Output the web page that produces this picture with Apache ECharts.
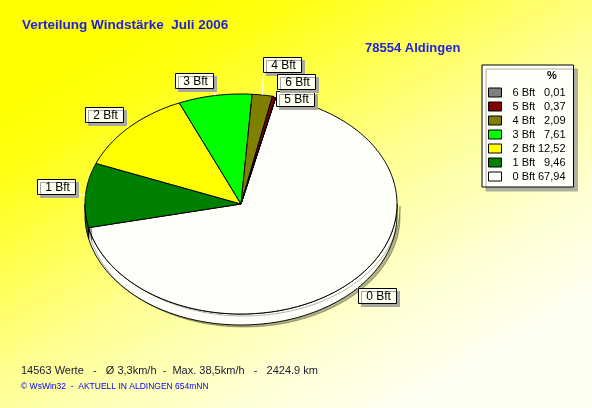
<!DOCTYPE html>
<html>
<head>
<meta charset="utf-8">
<title>Verteilung Windstärke Juli 2006</title>
<script src="https://cdn.jsdelivr.net/npm/echarts@6/dist/echarts.min.js"></script>
<style>
    html, body { margin: 0; padding: 0; }
    #chart { width: 592px; height: 408px; }
</style>
</head>
<body>
<div id="chart"></div>
<script>
// Daten: Windstärke-Klassen und Anteile in %
var classes = ['0 Bft', '1 Bft', '2 Bft', '3 Bft', '4 Bft', '5 Bft', '6 Bft'];
var shares = [67.94, 9.46, 12.52, 7.61, 2.09, 0.37, 0.01];
var colors = ['#fffffa', '#008000', '#ffff00', '#00ff00', '#808000', '#800000', '#808080'];
var legendOrder = ['6 Bft', '5 Bft', '4 Bft', '3 Bft', '2 Bft', '1 Bft', '0 Bft'];

var titleText = 'Verteilung Windstärke  Juli 2006';
var stationText = '78554 Aldingen';
var statsText = '14563 Werte   -   Ø 3,3km/h  -  Max. 38,5km/h   -   2424.9 km';
var footerText = '© WsWin32  -  AKTUELL IN ALDINGEN 654mNN';

// Geometrie der (schräg gesehenen) Torte
var pie = { cx: 241, cy: 204, rx: 156, ry: 110, depth: 11, start: -77 };
// Position der Beschriftungsboxen relativ zum Randpunkt (Mitte der Box)
var labelOffset = [[26, 13], [-30, -9], [-25, -13], [-21, -15], [20, -31], [21, 2], [20, -15]];
var boxW = 38, boxH = 15;

var total = shares.reduce(function (a, b) { return a + b; }, 0);
var startAngles = [];
var acc = pie.start;
shares.forEach(function (v) {
    startAngles.push(acc);
    acc += v / total * 360;
});

function pt(deg, dy) {
    var r = deg * Math.PI / 180;
    return [pie.cx + pie.rx * Math.cos(r), pie.cy + pie.ry * Math.sin(r) + (dy || 0)];
}
function arc(a1, a2, dy) {
    var pts = [];
    var n = Math.max(1, Math.ceil(Math.abs(a2 - a1)));
    for (var k = 0; k <= n; k++) {
        pts.push(pt(a1 + (a2 - a1) * k / n, dy));
    }
    return pts;
}
function shade(c, f) {
    var n = parseInt(c.slice(1), 16);
    var r = Math.round(((n >> 16) & 255) * f), g = Math.round(((n >> 8) & 255) * f), b = Math.round((n & 255) * f);
    return 'rgb(' + r + ',' + g + ',' + b + ')';
}

function renderSlice(params, api) {
    var i = params.seriesIndex;
    var a1 = startAngles[i];
    var a2 = a1 + api.value(0) / total * 360;
    var children = [];

    // sichtbare Seitenwand (vorne, 0..180 Grad)
    var s = Math.max(a1, 0), e = Math.min(a2, 180);
    if (s < e) {
        var side = arc(s, e, 0).concat(arc(e, s, pie.depth));
        children.push({
            type: 'polygon',
            shape: { points: side },
            style: {
                fill: i === 0 ? colors[i] : shade(colors[i], 0.85),
                stroke: '#000', lineWidth: 1,
                shadowColor: 'rgba(0,0,0,0.3)', shadowOffsetX: 3, shadowOffsetY: 2, shadowBlur: 0
            }
        });
    }
    // Oberseite
    children.push({
        type: 'polygon',
        shape: { points: [[pie.cx, pie.cy]].concat(arc(a1, a2, 0)) },
        style: { fill: colors[i], stroke: '#000', lineWidth: 1 }
    });

    // Beschriftung
    var p = pt((a1 + a2) / 2, 0);
    var off = labelOffset[i];
    var bx = Math.round(p[0] + off[0] - boxW / 2) + 0.5;
    var by = Math.round(p[1] + off[1] - boxH / 2) + 0.5;
    var qx = Math.min(Math.max(p[0], bx), bx + boxW);
    var qy = Math.min(Math.max(p[1], by), by + boxH);
    if (Math.abs(qx - p[0]) + Math.abs(qy - p[1]) > 1) {
        children.push({
            type: 'line', z2: 50,
            shape: { x1: p[0], y1: p[1], x2: qx, y2: qy },
            style: { stroke: '#ffffff', lineWidth: 1 }
        });
    }
    children.push({
        type: 'rect', z2: 100,
        shape: { x: bx, y: by, width: boxW, height: boxH },
        style: {
            fill: '#fffff0', stroke: '#000', lineWidth: 1,
            shadowColor: '#a8a8a0', shadowOffsetX: 3, shadowOffsetY: 3, shadowBlur: 0
        }
    });
    children.push({
        type: 'text', z2: 101,
        style: {
            x: bx + boxW / 2 + 1, y: by + boxH / 2 + 0.5,
            text: classes[i], align: 'center', verticalAlign: 'middle',
            font: '12px "Liberation Sans", Arial, sans-serif', fill: '#000'
        }
    });
    return { type: 'group', children: children };
}

var chart = echarts.init(document.getElementById('chart'));

var series = classes.map(function (name, i) {
    return {
        name: name,
        type: 'custom',
        coordinateSystem: 'none',
        renderItem: renderSlice,
        itemStyle: { color: colors[i] },
        data: [shares[i]],
        silent: true,
        animation: false
    };
});

var option = {
    backgroundColor: {
        type: 'linear', x: 0.3, y: 0, x2: 0.7, y2: 1,
        colorStops: [
            { offset: 0, color: '#ffff00' },
            { offset: 0.12, color: '#ffff10' },
            { offset: 0.5, color: '#ffff90' },
            { offset: 0.8, color: '#ffffd6' },
            { offset: 1, color: '#fffff4' }
        ]
    },
    legend: {
        orient: 'vertical',
        left: 482,
        top: 65,
        width: 87,
        padding: [21, 8, 4, 6],
        itemGap: 1,
        itemWidth: 13,
        itemHeight: 9,
        icon: 'rect',
        selectedMode: false,
        backgroundColor: '#fffffa',
        borderColor: '#000',
        borderWidth: 1,
        shadowColor: '#b0b0a0',
        shadowOffsetX: 4,
        shadowOffsetY: 4,
        shadowBlur: 0,
        itemStyle: { borderColor: '#000', borderWidth: 1 },
        data: legendOrder,
        formatter: function (name) {
            var v = shares[classes.indexOf(name)].toFixed(2).replace('.', ',');
            return '{n|' + name + '}{v|' + v + '}';
        },
        textStyle: {
            fontFamily: '"Liberation Sans", Arial, sans-serif',
            fontSize: 11,
            color: '#000',
            lineHeight: 13,
            rich: {
                n: { width: 26, padding: [0, 0, 0, 6], fontSize: 11, lineHeight: 13 },
                v: { width: 27, align: 'right', fontSize: 11, lineHeight: 13 }
            }
        }
    },
    graphic: [
        {
            type: 'text', left: 22, top: 18,
            style: { text: titleText, font: 'bold 13.5px "Liberation Sans", Arial, sans-serif', fill: '#2222dd' }
        },
        {
            type: 'text', left: 365, top: 42,
            style: { text: stationText, font: 'bold 13px "Liberation Sans", Arial, sans-serif', fill: '#2222dd' }
        },
        {
            type: 'text', left: 547, top: 70, z: 10,
            style: { text: '%', font: 'bold 11px "Liberation Sans", Arial, sans-serif', fill: '#000' }
        },
        {
            type: 'text', left: 21, top: 365,
            style: { text: statsText, font: '11px "Liberation Sans", Arial, sans-serif', fill: '#1a1a30' }
        },
        {
            type: 'text', left: 21, top: 382,
            style: { text: footerText, font: '8.5px "Liberation Sans", Arial, sans-serif', fill: '#0000ff' }
        }
    ],
    series: series
};

chart.setOption(option);
</script>
</body>
</html>
